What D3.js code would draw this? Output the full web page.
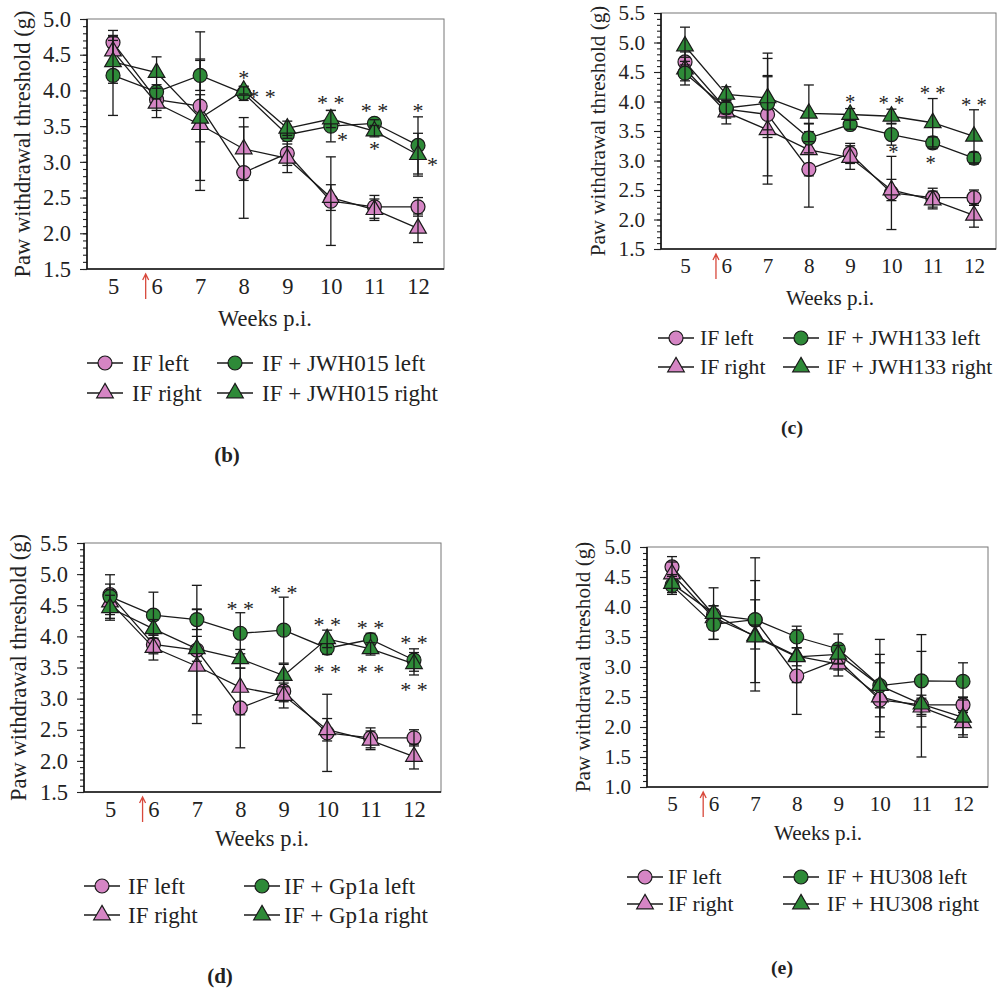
<!DOCTYPE html>
<html>
<head>
<meta charset="utf-8">
<script src="https://cdn.jsdelivr.net/npm/d3@7"></script>
<style>
  body { margin: 0; background: #fff; }
  svg text { font-family: "Liberation Serif", "DejaVu Serif", serif; fill: #222; }
</style>
</head>
<body>
<div id="chart"></div>
<script>
// weeks post injury
var weeks = [5, 6, 7, 8, 9, 10, 11, 12];

// control groups (same in every panel)
var ifLeft     = [4.67, 3.87, 3.78, 2.85, 3.12, 2.45, 2.37, 2.37];
var ifLeftErr  = [0.17, 0.15, 1.04, 0.64, 0.17, 0.62, 0.16, 0.13];
var ifRight    = [4.55, 3.82, 3.52, 3.18, 3.05, 2.50, 2.33, 2.07];
var ifRightErr = [0.20, 0.20, 0.92, 0.44, 0.20, 0.18, 0.15, 0.20];

// (b) JWH015
var jwh015Left     = [4.21, 3.98, 4.21, 3.96, 3.38, 3.50, 3.54, 3.23];
var jwh015LeftErr  = [0.56, 0.10, 0.21, 0.10, 0.05, 0.22, 0.05, 0.40];
var jwh015Right    = [4.40, 4.25, 3.61, 4.00, 3.47, 3.60, 3.43, 3.10];
var jwh015RightErr = [0.30, 0.22, 0.33, 0.05, 0.10, 0.12, 0.08, 0.30];

// (c) JWH133
var jwh133Left     = [4.48, 3.89, 3.97, 3.38, 3.61, 3.44, 3.30, 3.04];
var jwh133LeftErr  = [0.20, 0.10, 0.45, 0.25, 0.08, 0.18, 0.10, 0.10];
var jwh133Right    = [4.94, 4.12, 4.06, 3.80, 3.78, 3.75, 3.64, 3.41];
var jwh133RightErr = [0.32, 0.13, 0.67, 0.48, 0.10, 0.12, 0.41, 0.45];

// (d) Gp1a
var gp1aLeft     = [4.64, 4.34, 4.27, 4.05, 4.10, 3.81, 3.95, 3.62];
var gp1aLeftErr  = [0.35, 0.37, 0.16, 0.33, 0.53, 0.10, 0.10, 0.18];
var gp1aRight    = [4.46, 4.12, 3.80, 3.64, 3.37, 3.96, 3.80, 3.56];
var gp1aRightErr = [0.20, 0.15, 0.20, 0.15, 0.18, 0.14, 0.10, 0.18];

// (e) HU308
var hu308Left     = [4.36, 3.71, 3.79, 3.50, 3.30, 2.69, 2.77, 2.76];
var hu308LeftErr  = [0.15, 0.25, 0.33, 0.18, 0.25, 0.77, 0.77, 0.31];
var hu308Right    = [4.39, 3.89, 3.50, 3.17, 3.21, 2.69, 2.38, 2.16];
var hu308RightErr = [0.15, 0.43, 0.20, 0.15, 0.15, 0.52, 0.88, 0.33];

// significance marks: [week, value, text]
var starsB = [[8, 4.22, "*"], [8.42, 3.95, "* *"], [10, 3.87, "* *"], [10.27, 3.35, "*"],
              [11, 3.75, "* *"], [11, 3.22, "*"], [12, 3.75, "*"], [12.33, 3.0, "*"]];
var starsC = [[9, 4.04, "*"], [10, 4.02, "* *"], [10.05, 3.2, "*"], [11, 4.2, "* *"],
              [10.95, 3.01, "*"], [12, 4.0, "* *"]];
var starsD = [[8, 4.48, "* *"], [9, 4.74, "* *"], [10, 4.23, "* *"], [10, 3.48, "* *"],
              [11, 4.19, "* *"], [11, 3.48, "* *"], [12, 3.94, "* *"], [12, 3.18, "* *"]];
var starsE = [];

var treatmentWeek = 5.75;

var pink = "#d585c4", green = "#2e8a38";

var panels = [
  {tag: "(b)", drug: "JWH015", left: jwh015Left, leftErr: jwh015LeftErr, right: jwh015Right, rightErr: jwh015RightErr,
   fs: 1, box: {l: 87, r: 444, t: 19, b: 269}, x5: 113, x12: 418, yDom: [1.5, 5.0], yTitleX: 22,
   weeksXY: [265, 318], rows: [363, 393], cols: [[87, 132], [217, 262]], tagXY: [227, 455], stars: starsB},
  {tag: "(c)", drug: "JWH133", left: jwh133Left, leftErr: jwh133LeftErr, right: jwh133Right, rightErr: jwh133RightErr,
   fs: 0.94, box: {l: 661, r: 996, t: 13, b: 249}, x5: 685, x12: 974, yDom: [1.5, 5.5], yTitleX: 598,
   weeksXY: [830, 298], rows: [338, 367], cols: [[658, 700], [783, 827]], tagXY: [792, 427], stars: starsC},
  {tag: "(d)", drug: "Gp1a", left: gp1aLeft, leftErr: gp1aLeftErr, right: gp1aRight, rightErr: gp1aRightErr,
   fs: 1, box: {l: 84, r: 441, t: 543, b: 792}, x5: 110, x12: 414, yDom: [1.5, 5.5], yTitleX: 18,
   weeksXY: [262, 838], rows: [886, 915], cols: [[84, 128], [244, 284]], tagXY: [220, 976], stars: starsD},
  {tag: "(e)", drug: "HU308", left: hu308Left, leftErr: hu308LeftErr, right: hu308Right, rightErr: hu308RightErr,
   fs: 0.94, box: {l: 647, r: 988, t: 547, b: 787}, x5: 672, x12: 963, yDom: [1.0, 5.0], yTitleX: 583,
   weeksXY: [818, 833], rows: [877, 904], cols: [[627, 668], [783, 827]], tagXY: [782, 967], stars: starsE}
];

var svg = d3.select("#chart").append("svg")
    .attr("width", 997)
    .attr("height", 990);

var circleSym = d3.symbol().type(d3.symbolCircle).size(Math.PI * 7 * 7);
var triSym = d3.symbol().type(d3.symbolTriangle).size(120);

function marker(sel, shape, fill) {
  sel.attr("d", shape === "circle" ? circleSym() : triSym())
    .attr("fill", fill)
    .attr("stroke", "#1a1a1a")
    .attr("stroke-width", 1.2);
}

function drawPanel(p) {
  var g = svg.append("g");
  var x = d3.scaleLinear().domain([5, 12]).range([p.x5, p.x12]);
  var y = d3.scaleLinear().domain(p.yDom).range([p.box.b, p.box.t]);
  var px = function(s) { return (s * p.fs) + "px"; };

  // frame
  g.append("rect")
    .attr("x", p.box.l).attr("y", p.box.t)
    .attr("width", p.box.r - p.box.l).attr("height", p.box.b - p.box.t)
    .attr("fill", "none").attr("stroke", "#777").attr("stroke-width", 1);

  // y axis: minor + major ticks
  var majors = d3.range(p.yDom[0], p.yDom[1] + 0.001, 0.5);
  var minors = d3.range(p.yDom[0], p.yDom[1] + 0.001, 0.1);
  var yMinor = g.append("g")
    .attr("transform", "translate(" + p.box.l + ",0)")
    .call(d3.axisLeft(y).tickValues(minors).tickSize(4).tickFormat(""));
  yMinor.select(".domain").remove();
  var yAxis = g.append("g")
    .attr("transform", "translate(" + p.box.l + ",0)")
    .call(d3.axisLeft(y).tickValues(majors).tickSize(7).tickPadding(9).tickFormat(d3.format(".1f")));
  yAxis.select(".domain").remove();
  g.selectAll(".tick line").attr("stroke", "#222").attr("stroke-width", 1.1);
  yAxis.selectAll("text").style("font-size", px(22.5)).attr("fill", "#222");

  // x axis labels
  var xAxis = g.append("g")
    .attr("transform", "translate(0," + p.box.b + ")")
    .call(d3.axisBottom(x).tickValues(weeks).tickSize(0).tickPadding(9).tickFormat(d3.format("d")));
  xAxis.select(".domain").remove();
  xAxis.selectAll("text").style("font-size", px(22.5)).attr("fill", "#222");

  // axis lines
  g.append("line").attr("x1", p.box.l).attr("x2", p.box.l).attr("y1", p.box.t).attr("y2", p.box.b)
    .attr("stroke", "#111").attr("stroke-width", 1.6);
  g.append("line").attr("x1", p.box.l).attr("x2", p.box.r).attr("y1", p.box.b).attr("y2", p.box.b)
    .attr("stroke", "#111").attr("stroke-width", 1.6);

  // treatment arrow
  var ax = x(treatmentWeek);
  g.append("path")
    .attr("d", "M" + ax + "," + (p.box.b + 30) + "V" + (p.box.b + 5) +
               "M" + (ax - 3) + "," + (p.box.b + 11) + "L" + ax + "," + (p.box.b + 5) + "L" + (ax + 3) + "," + (p.box.b + 11))
    .attr("fill", "none").attr("stroke", "#d8493c").attr("stroke-width", 1.3);

  // titles
  g.append("text")
    .attr("transform", "translate(" + p.yTitleX + "," + ((p.box.t + p.box.b) / 2) + ") rotate(-90)")
    .attr("text-anchor", "middle").attr("dominant-baseline", "central")
    .style("font-size", px(22.5))
    .text("Paw withdrawal threshold (g)");
  g.append("text")
    .attr("x", p.weeksXY[0]).attr("y", p.weeksXY[1])
    .attr("text-anchor", "middle").attr("dominant-baseline", "central")
    .style("font-size", px(22.5))
    .text("Weeks p.i.");

  // series
  var series = [
    {vals: ifLeft, err: ifLeftErr, shape: "circle", fill: pink, name: "IF left"},
    {vals: ifRight, err: ifRightErr, shape: "triangle", fill: pink, name: "IF right"},
    {vals: p.left, err: p.leftErr, shape: "circle", fill: green, name: "IF + " + p.drug + " left"},
    {vals: p.right, err: p.rightErr, shape: "triangle", fill: green, name: "IF + " + p.drug + " right"}
  ];

  var line = d3.line()
    .x(function(d) { return x(d.w); })
    .y(function(d) { return y(d.v); });

  series.forEach(function(s) {
    var pts = weeks.map(function(w, i) { return {w: w, v: s.vals[i], e: s.err[i]}; });
    var sg = g.append("g");
    sg.append("path").datum(pts).attr("d", line)
      .attr("fill", "none").attr("stroke", "#1a1a1a").attr("stroke-width", 1.3);
    sg.selectAll(".mk").data(pts).enter().append("path")
      .attr("class", "mk")
      .attr("transform", function(d) { return "translate(" + x(d.w) + "," + y(d.v) + ")"; })
      .call(marker, s.shape, s.fill);
    var eb = sg.selectAll(".err").data(pts).enter().append("g").attr("class", "err")
      .attr("stroke", "#1a1a1a").attr("stroke-width", 1.3);
    eb.append("line")
      .attr("x1", function(d) { return x(d.w); }).attr("x2", function(d) { return x(d.w); })
      .attr("y1", function(d) { return y(d.v - d.e); }).attr("y2", function(d) { return y(d.v + d.e); });
    eb.append("line")
      .attr("x1", function(d) { return x(d.w) - 5; }).attr("x2", function(d) { return x(d.w) + 5; })
      .attr("y1", function(d) { return y(d.v + d.e); }).attr("y2", function(d) { return y(d.v + d.e); });
    eb.append("line")
      .attr("x1", function(d) { return x(d.w) - 5; }).attr("x2", function(d) { return x(d.w) + 5; })
      .attr("y1", function(d) { return y(d.v - d.e); }).attr("y2", function(d) { return y(d.v - d.e); });
  });

  // significance stars
  g.selectAll(".star").data(p.stars).enter().append("text")
    .attr("class", "star")
    .attr("x", function(d) { return x(d[0]); })
    .attr("y", function(d) { return y(d[1]) + 10; })
    .attr("text-anchor", "middle")
    .style("font-size", px(22))
    .text(function(d) { return d[2]; });

  // legend
  var order = [[0, 0], [1, 0], [2, 1], [3, 1]];
  order.forEach(function(o, k) {
    var s = series[o[0]];
    var col = p.cols[o[1]];
    var ry = p.rows[k % 2];
    var lg = g.append("g");
    lg.append("line").attr("x1", col[0]).attr("x2", col[0] + 36).attr("y1", ry).attr("y2", ry)
      .attr("stroke", "#1a1a1a").attr("stroke-width", 1.3);
    lg.append("path")
      .attr("transform", "translate(" + (col[0] + 18) + "," + ry + ")")
      .call(marker, s.shape, s.fill);
    lg.append("text")
      .attr("x", col[1]).attr("y", ry)
      .attr("dominant-baseline", "central")
      .style("font-size", px(23))
      .text(s.name);
  });

  g.append("text")
    .attr("x", p.tagXY[0]).attr("y", p.tagXY[1])
    .attr("text-anchor", "middle").attr("dominant-baseline", "central")
    .style("font-size", px(21)).style("font-weight", "bold")
    .text(p.tag);
}

panels.forEach(drawPanel);
</script>
</body>
</html>
